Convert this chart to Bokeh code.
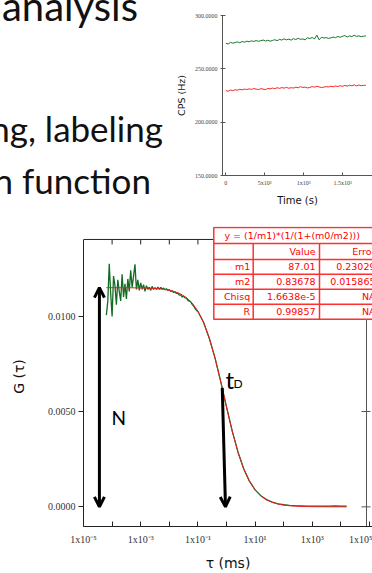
from bokeh.plotting import figure
from bokeh.layouts import column, row
from bokeh.models import (Range1d, LinearScale, FixedTicker, PrintfTickFormatter,
                          Arrow, OpenHead, Label, Div)
from bokeh.core.properties import value
from bokeh.embed import file_html
from bokeh.resources import INLINE

# ---------------- data ----------------
slide_lines = ["analysis", "ng, labeling", "n function"]

# count-rate trace (inset)
cps_time = [0, 30, 60, 90, 120, 150, 180, 210, 240, 270,
            300, 330, 360, 390, 420, 450, 480, 510, 540, 570,
            600, 630, 660, 690, 720, 750, 780, 810, 840, 870,
            900, 930, 960, 990, 1020, 1050, 1080, 1110, 1140, 1170,
            1200, 1230, 1260, 1290, 1320, 1350, 1380, 1410, 1440, 1470,
            1500, 1530, 1560, 1590, 1620, 1650, 1680, 1710, 1740, 1770, 1800]
cps_green = [274.0, 273.2, 274.8, 274.1, 274.6, 275.3, 274.4, 275.6, 275.0, 275.9,
             275.4, 276.2, 275.7, 276.5, 275.8, 276.4, 277.0, 276.1, 276.8, 275.9,
             276.6, 277.3, 276.4, 277.6, 277.0, 278.1, 277.2, 277.8, 276.9, 278.3,
             277.5, 278.6, 277.7, 278.0, 277.2, 279.1, 278.4, 279.4, 278.0, 281.6,
             277.2, 279.6, 278.9, 279.3, 278.5, 279.0, 279.8, 279.2, 280.3, 279.6,
             280.5, 281.2, 279.8, 280.9, 280.2, 281.5, 280.4, 281.0, 280.1, 280.6, 280.9]
cps_red = [229.6, 229.0, 230.2, 229.5, 230.4, 230.0, 230.8, 230.3, 231.0, 230.6,
           231.2, 230.7, 231.5, 231.0, 230.6, 231.4, 231.0, 230.5, 231.6, 231.2,
           232.0, 231.4, 232.3, 231.7, 232.4, 231.9, 232.6, 231.8, 232.3, 232.0,
           232.8, 232.2, 233.3, 232.5, 232.9, 232.1, 232.6, 233.4, 232.8, 233.6,
           233.0, 232.4, 232.9, 233.3, 233.0, 233.7, 233.2, 234.0, 233.4, 234.2,
           233.6, 234.5, 233.8, 234.6, 234.1, 235.0, 234.0, 234.8, 234.2, 234.5, 234.6]
cps_yticks = [150, 200, 250, 300]
cps_xticks = [0, 500, 1000, 1500]
cps_xlabels = ["0", "5x10²", "1x10³", "1.5x10³"]

# autocorrelation data (log10 of tau in ms) and G(tau)
acf_log_tau = [-4.20, -4.15, -4.10, -4.05, -4.00, -3.95, -3.90, -3.85, -3.80, -3.75,
               -3.70, -3.65, -3.60, -3.55, -3.50, -3.45, -3.40, -3.35, -3.30, -3.25,
               -3.20, -3.15, -3.10, -3.05, -3.00, -2.95, -2.90, -2.85, -2.80, -2.75,
               -2.70, -2.65, -2.60, -2.55, -2.50, -2.45, -2.40, -2.35, -2.30, -2.25,
               -2.20, -2.15, -2.10, -2.05, -2.00, -1.95, -1.90, -1.85, -1.80, -1.75,
               -1.70, -1.65, -1.60, -1.55, -1.50, -1.45, -1.40, -1.35, -1.30, -1.25,
               -1.20, -1.15, -1.10, -1.05, -1.00,
               -0.8, -0.6, -0.4, -0.2, 0.0, 0.2, 0.4, 0.6, 0.8, 1.0,
               1.2, 1.4, 1.6, 1.8, 2.0, 2.2, 2.4, 2.6, 2.8, 3.0,
               3.2, 3.4, 3.6, 3.8, 4.0, 4.2]
acf_g = [0.01005, 0.01080, 0.01275, 0.01120, 0.00998, 0.01210, 0.01160, 0.01060, 0.01190, 0.01130,
         0.01080, 0.01220, 0.01100, 0.01170, 0.01090, 0.01195, 0.01130, 0.01240, 0.01150, 0.01210,
         0.01272, 0.01140, 0.01190, 0.01135, 0.01175, 0.01140, 0.01165, 0.01130, 0.01160, 0.01140,
         0.01152, 0.01135, 0.01156, 0.01140, 0.01150, 0.01140, 0.01152, 0.01141, 0.01150, 0.01142,
         0.01147, 0.01138, 0.01144, 0.01135, 0.01139, 0.01130, 0.01133, 0.01124, 0.01127, 0.01119,
         0.01120, 0.01110, 0.01112, 0.01100, 0.01105, 0.01096, 0.01094, 0.01082, 0.01080, 0.01074,
         0.01062, 0.01053, 0.01040, 0.01030, 0.01024,
         0.00967, 0.00883, 0.00780, 0.00655, 0.00524, 0.00397, 0.00288, 0.00200, 0.00135, 0.00089,
         0.00058, 0.00038, 0.00025, 0.00016, 0.00011, 0.00008, 0.00006, 0.00005, 0.00004, 0.00004,
         0.00004, 0.00004, 0.00004, 0.00005, 0.00004, 0.00004]

# fitted curve (log10 tau, G)
fit_log_tau = [-4.2, -4.0, -3.8, -3.6, -3.4, -3.2, -3.0, -2.8, -2.6, -2.4, -2.2,
               -2.0, -1.8, -1.6, -1.4, -1.2, -1.0, -0.8, -0.6, -0.4, -0.2,
               0.0, 0.2, 0.4, 0.6, 0.8, 1.0, 1.2, 1.4, 1.6, 1.8, 2.0,
               2.2, 2.4, 2.6, 2.8, 3.0, 3.2, 3.4, 3.6, 3.8, 4.0, 4.2]
fit_g = [0.011492, 0.011492, 0.011491, 0.011490, 0.011488, 0.011484, 0.011479, 0.011471,
         0.011459, 0.011439, 0.011407, 0.011357, 0.011279, 0.011158, 0.010971, 0.010687,
         0.010266, 0.009663, 0.008839, 0.007788, 0.006552, 0.005236, 0.003971, 0.002872,
         0.001996, 0.001346, 0.000887, 0.000576, 0.000370, 0.000237, 0.000150, 0.000095,
         0.000060, 0.000038, 0.000024, 0.000015, 0.000010, 0.000006, 0.000004, 0.000002,
         0.000002, 0.000001, 0.000001]

g_yticks = [0.0, 0.005, 0.01]
tau_major = [1e-5, 1e-3, 1e-1, 1e1, 1e3, 1e5]
tau_minor = [1e-4, 1e-2, 1e0, 1e2, 1e4]
tau_labels = ["1x10⁻⁵", "1x10⁻³", "1x10⁻¹", "1x10¹", "1x10³", "1x10⁵"]

fit_equation = "y = (1/m1)*(1/(1+(m0/m2)))"
fit_params = ["m1", "m2", "Chisq", "R"]
fit_values = ["87.01", "0.83678", "1.6638e-5", "0.99857"]
fit_errors = ["0.23029", "0.015865", "NA", "NA"]
m1 = 87.01
m2 = 0.83678
tD_top = (0.71, 0.00624)
tD_bottom = (0.92, 0.0)
N_tau = 3.6e-5

# ---------------- slide text (left of the inset) ----------------
TW, TH = 172, 213
spans = []
for txt, xr, base, fs in [(slide_lines[0], 138, 21, 40),
                          (slide_lines[1], 163, 142, 35),
                          (slide_lines[2], 151, 194, 35)]:
    top = base - 0.887 * fs          # Lato: baseline sits 0.887em below the box top at line-height 1
    spans.append(
        f'<div style="position:absolute;right:{TW - xr}px;top:{top:.1f}px;'
        f'font-size:{fs}px;line-height:1;white-space:nowrap;">{txt}</div>')
slide = Div(text=(f'<div style="position:relative;width:{TW}px;height:{TH}px;overflow:hidden;'
                  f'font-family:Lato,sans-serif;color:#111111;margin:0;padding:0;">'
                  + "".join(spans) + '</div>'),
            width=TW, height=TH, margin=0)

# ---------------- inset: count rate ----------------
ins = figure(width=200, height=213, x_range=Range1d(-42, 1885), y_range=Range1d(150, 300),
             title=None, min_border_left=50, min_border_right=0, min_border_top=15,
             min_border_bottom=38, toolbar_location=None, output_backend="svg")
ins.outline_line_color = None
ins.grid.visible = False
ins.line(cps_time, cps_green, line_color="#1b742a", line_width=1)
ins.line(cps_time, cps_red, line_color="#ff2222", line_width=1)
iy = ins.yaxis[0]
iy.ticker = FixedTicker(ticks=cps_yticks, minor_ticks=[])
iy.formatter = PrintfTickFormatter(format="%.4f")
ix = ins.xaxis[0]
ix.ticker = FixedTicker(ticks=cps_xticks, minor_ticks=[])
ix.major_label_overrides = {t: l for t, l in zip(cps_xticks, cps_xlabels)}
for ax in (ix, iy):
    ax.axis_line_color = "#555555"
    ax.major_tick_line_color = "#555555"
    ax.major_label_text_font = "Liberation Serif"
    ax.major_label_text_font_size = "6px"
    ax.major_label_text_color = "#444444"
    ax.axis_label_text_font = "DejaVu Sans"
    ax.axis_label_text_font_style = "normal"
    ax.axis_label_text_color = "#111111"
iy.major_tick_in = 3
iy.major_tick_out = 2
iy.major_label_standoff = 3
iy.axis_label = "CPS (Hz)"
iy.axis_label_text_font_size = "9.5px"
iy.axis_label_standoff = 5
ix.major_tick_in = 3
ix.major_tick_out = 0
ix.major_label_standoff = 4
ix.axis_label = "Time (s)"
ix.axis_label_text_font_size = "10px"
ix.axis_label_standoff = 6

# ---------------- main: autocorrelation ----------------
Y0, Y1 = -0.00103, 0.0147
FWp, FHp = 289, 301
p = figure(width=372, height=360, x_axis_type="log",
           x_range=Range1d(1e-5, 1.27e5), y_range=Range1d(Y0, Y1), title=None,
           min_border_left=83, min_border_right=0, min_border_top=13, min_border_bottom=46,
           toolbar_location=None, output_backend="svg")
p.outline_line_color = None
p.grid.visible = False
p.extra_x_ranges = {"px": Range1d(0, FWp)}
p.extra_x_scales = {"px": LinearScale()}
p.extra_y_ranges = {"px": Range1d(FHp, 0)}
p.extra_y_scales = {"px": LinearScale()}
BOX_TOP_PX = 13
BOX_RIGHT_PX = 283
box_top = Y1 - BOX_TOP_PX * (Y1 - Y0) / FHp

acf_tau = [10 ** v for v in acf_log_tau]
fit_tau = [10 ** v for v in fit_log_tau]
p.line(acf_tau, acf_g, line_color="#116b22", line_width=1.3)
p.line(fit_tau, fit_g, line_color="#ee1c1c", line_width=1)

xa = p.xaxis[0]
xa.ticker = FixedTicker(ticks=tau_major, minor_ticks=tau_minor)
xa.major_label_overrides = {t: l for t, l in zip(tau_major, tau_labels)}
xa.major_tick_in = 5
xa.major_tick_out = 0
xa.minor_tick_in = 5
xa.minor_tick_out = 0
xa.minor_tick_line_color = "#222222"
xa.major_label_standoff = 7
xa.axis_label = "τ (ms)"
xa.axis_label_standoff = 7

ya = p.yaxis[0]
ya.ticker = FixedTicker(ticks=g_yticks, minor_ticks=[])
ya.formatter = PrintfTickFormatter(format="%.4f")
ya.bounds = (Y0, box_top)
ya.major_tick_in = 0
ya.major_tick_out = 5
ya.major_label_standoff = 3
ya.axis_label = "G (τ)"
ya.axis_label_standoff = 18
for ax in (xa, ya):
    ax.axis_line_color = "#222222"
    ax.major_tick_line_color = "#222222"
    ax.major_label_text_font = "Liberation Serif"
    ax.major_label_text_font_size = "10px"
    ax.major_label_text_color = "#333333"
    ax.axis_label_text_font = "DejaVu Sans"
    ax.axis_label_text_font_style = "normal"
    ax.axis_label_text_font_size = "14px"
    ax.axis_label_text_color = "#111111"

# box: top and right borders with inward ticks
p.segment(x0=[0], y0=[BOX_TOP_PX], x1=[BOX_RIGHT_PX], y1=[BOX_TOP_PX],
          x_range_name="px", y_range_name="px", line_color="#222222", line_width=1)
p.segment(x0=[BOX_RIGHT_PX], y0=[BOX_TOP_PX], x1=[BOX_RIGHT_PX], y1=[FHp],
          x_range_name="px", y_range_name="px", line_color="#555555", line_width=1)
top_ticks = [t for t in sorted(tau_major + tau_minor) if t > 1e-5]
p.segment(x0=top_ticks, y0=[BOX_TOP_PX] * len(top_ticks), x1=top_ticks,
          y1=[BOX_TOP_PX + 5] * len(top_ticks), y_range_name="px",
          line_color="#222222", line_width=1)
p.segment(x0=[BOX_RIGHT_PX - 5] * len(g_yticks), y0=g_yticks,
          x1=[BOX_RIGHT_PX + 4] * len(g_yticks), y1=g_yticks,
          x_range_name="px", line_color="#555555", line_width=1)

# arrows and labels
p.add_layout(Arrow(start=OpenHead(size=10, line_width=3, line_color="black"),
                   end=OpenHead(size=10, line_width=3, line_color="black"),
                   x_start=N_tau, y_start=0.0, x_end=N_tau, y_end=1.0 / m1,
                   line_width=3, line_color="black"))
p.add_layout(Arrow(start=None,
                   end=OpenHead(size=10, line_width=3, line_color="black"),
                   x_start=tD_top[0], y_start=tD_top[1], x_end=tD_bottom[0], y_end=tD_bottom[1],
                   line_width=3, line_color="black"))
p.add_layout(Label(x=28, y=192, x_range_name="px", y_range_name="px", text="N",
                   text_font="Lato", text_font_size="19px", text_color="black",
                   text_baseline="alphabetic"))
p.add_layout(Label(x=142, y=154, x_range_name="px", y_range_name="px", text="t",
                   text_font="Lato", text_font_size="24px", text_color="black",
                   text_baseline="alphabetic"))
p.add_layout(Label(x=150, y=158, x_range_name="px", y_range_name="px", text="D",
                   text_font="Lato", text_font_size="12px", text_color="black",
                   text_baseline="alphabetic"))

# fit results table (frame pixel coordinates)
TL, TR = 130.3, 296.0
rows_y = [1, 17, 33, 48, 63, 78, 93]
c1, c2 = 169.7, 236.0
head_x = 208.7
err_x = 292.0
tcol = "#ff3030"
p.quad(left=[TL], right=[TR], top=[rows_y[0]], bottom=[rows_y[-1]],
       x_range_name="px", y_range_name="px", fill_color="white",
       line_color=tcol, line_width=1.5)
inner = rows_y[1:-1]
p.segment(x0=[TL] * len(inner), y0=inner, x1=[TR] * len(inner), y1=inner,
          x_range_name="px", y_range_name="px", line_color=tcol, line_width=1.5)
p.segment(x0=[c1, c2], y0=[rows_y[1]] * 2, x1=[c1, c2], y1=[rows_y[-1]] * 2,
          x_range_name="px", y_range_name="px", line_color=tcol, line_width=1.5)
mid = [(a + b) / 2 for a, b in zip(rows_y[:-1], rows_y[1:])]
tk = dict(x_range_name="px", y_range_name="px", text_baseline="middle",
          text_font=value("DejaVu Sans"), text_font_size="9.5px", text_color="#ff0000")
p.text(x=[head_x], y=[mid[0]], text=[fit_equation], text_align="center", **tk)
p.text(x=[c2 - 4, err_x], y=[mid[1]] * 2, text=["Value", "Error"], text_align="right", **tk)
p.text(x=[c1 - 3] * 4, y=mid[2:], text=fit_params, text_align="right", **tk)
p.text(x=[c2 - 4] * 4, y=mid[2:], text=fit_values, text_align="right", **tk)
p.text(x=[err_x] * 4, y=mid[2:], text=fit_errors, text_align="right", **tk)

layout = column(row(slide, ins), p)
open("out.html", "w").write(file_html(layout, INLINE))
